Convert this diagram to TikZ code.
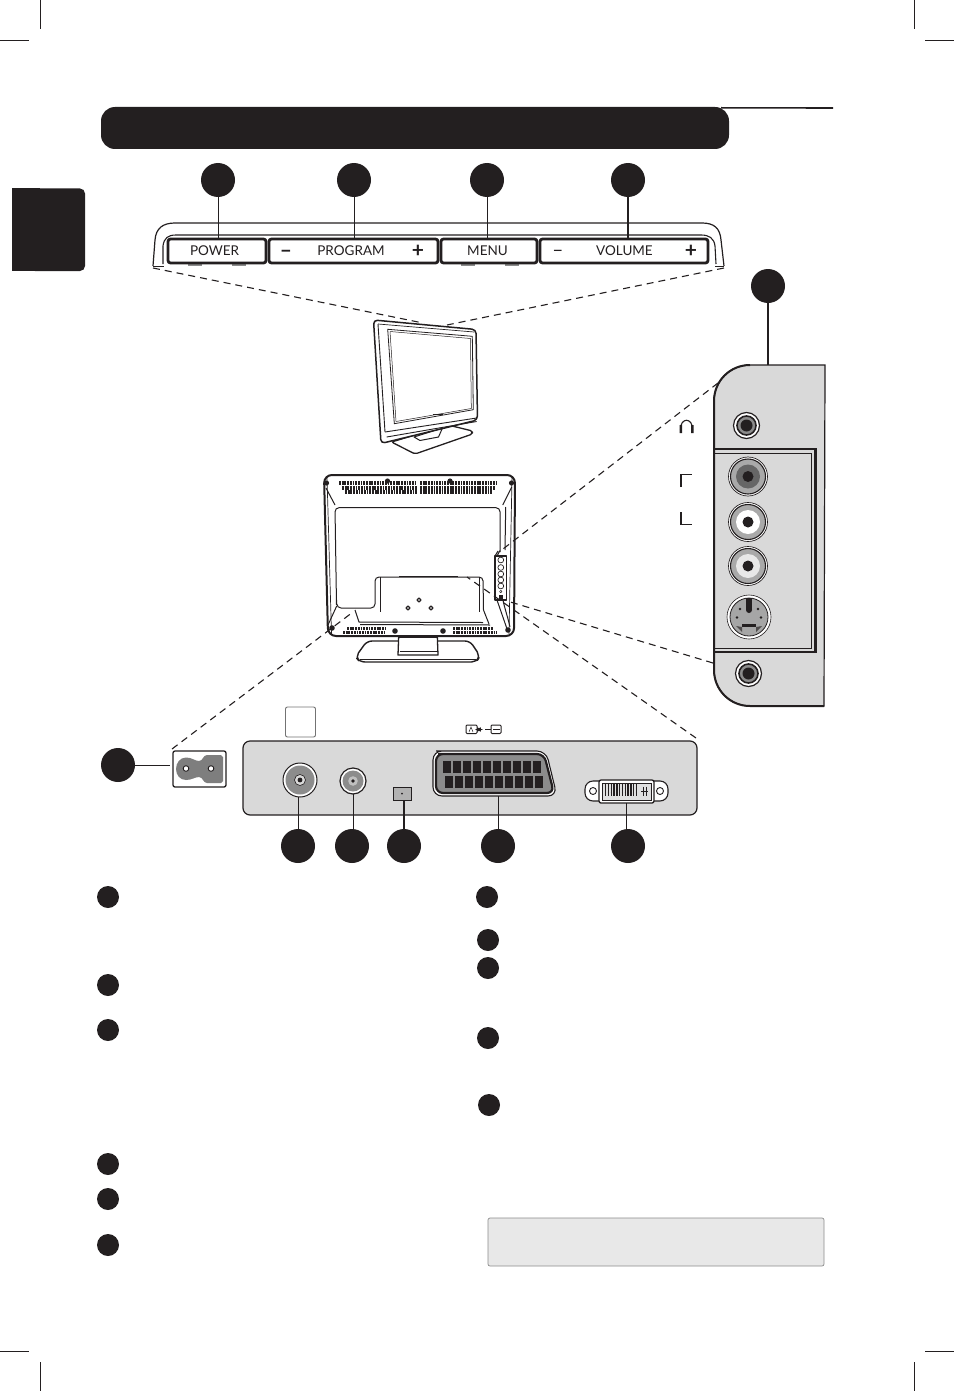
\documentclass[tikz,border=0pt]{standalone}
\usepackage{fontspec}
\setmainfont{Lato}
\usetikzlibrary{calc}
\definecolor{ink}{HTML}{231F20}
\definecolor{panelgrey}{HTML}{D9D9D9}
\definecolor{pingrey}{HTML}{8C8C8C}
\tikzstyle{callout}=[circle, fill=ink, draw=none, minimum size=34pt, inner sep=0pt]
\tikzstyle{bullet}=[circle, fill=ink, draw=none, minimum size=22pt, inner sep=0pt]
\tikzstyle{button}=[draw=ink, line width=2.8pt, rounded corners=2.5pt, minimum height=24pt,
    inner sep=0pt]
\tikzstyle{lead}=[draw=ink, line width=1pt]
\tikzstyle{zoomline}=[draw=ink, line width=1.1pt, dash pattern=on 7pt off 5pt]
\tikzstyle{crop}=[draw=ink, line width=0.7pt]
\tikzstyle{label}=[text=ink, inner sep=0pt, font=\fontsize{13.5}{15}\selectfont]
\tikzstyle{sign}=[text=ink, inner sep=0pt, anchor=base, font=\fontsize{21}{21}\selectfont\bfseries]
\tikzstyle{thinsign}=[text=ink, inner sep=0pt, anchor=base, font=\fontsize{19}{19}\selectfont]
\tikzstyle{vent}=[draw=ink, line width=4pt, dash pattern=on 1.8pt off 0.9pt]
\tikzstyle{outline}=[draw=ink, line width=1pt, line join=round]

\begin{document}
\begin{tikzpicture}[x=1pt,y=-1pt]
    \useasboundingbox (0,0) rectangle (954,1391);
    % crop marks
    \foreach \x in {40.5,914} {
      \draw [crop] (\x,0) -- (\x,29);
      \draw [crop] (\x,1362) -- (\x,1391);
    }
    \foreach \x in {0,925} {
      \draw [crop] (\x,40) -- (\x+29,40);
      \draw [crop] (\x,1351) -- (\x+29,1351);
    }
    % heading bar and section tab
    \node (bar) [fill=ink, rounded corners=14pt, minimum width=628pt, minimum height=42pt,
      inner sep=0pt] at (415,128) {};
    \draw [draw=ink, line width=1.6pt] (bar.north east)+(-8,1) -- (833,108);
    \fill [ink, rounded corners=5pt] (30,188.5) -- (85,188.5) -- (85,271) -- (30,271) -- cycle;
    \fill [ink] (12,188.5) rectangle (40,271);

    % button strip
    \draw [outline, line width=1.2pt] (153,266) -- (155,240) .. controls (156,228) and (163,223) .. (175,223)
      -- (702,223) .. controls (714,223) and (720,228) .. (721,240) -- (724,266);
    \draw [outline, line width=1.1pt] (163,264) -- (163,246) .. controls (164,238) and (168,235) .. (176,235)
      -- (701,235) .. controls (709,235) and (714,238) .. (715,246) -- (716,264);
    \draw [outline, line width=1.4pt] (153,266.5) -- (164,266.5) (715,266.5) -- (724,266.5);
    \foreach \x in {188,232,461,505}
      \draw [draw=pingrey, line width=1.6pt] (\x,265) -- (\x+14,265);
    \node (power) [button, fill=white, minimum width=98pt] at (217,251) {};
    \path (power)+(136.5,0) node (program) [button, fill=white, minimum width=169pt] {};
    \path (power)+(272,0) node (menu) [button, fill=white, minimum width=96pt] {};
    \path (power)+(407,0) node (volume) [button, fill=white, minimum width=168pt] {};
    \node (powertext) [label] at (214.5,251) {POWER};
    \node (programtext) [label] at (351,251) {PROGRAM};
    \node (programminus) [sign] at (286,257) {–};
    \node (programplus) [sign] at (418,257.5) {+};
    \node (menutext) [label] at (487.5,251) {MENU};
    \node (volumetext) [label] at (624.5,251) {VOLUME};
    \node (volumeminus) [thinsign] at (558,256) {–};
    \node (volumeplus) [sign] at (691,257.5) {+};

    % numbered markers above the buttons
    \node (callpower) [callout] at (218,180) {};
    \node (callprogram) [callout] at (354,180) {};
    \node (callmenu) [callout] at (487,180) {};
    \node (callvolume) [callout] at (628,180) {};
    \draw [lead] (callpower) -- (callpower |- power.north);
    \draw [lead] (callprogram) -- (callprogram |- program.north);
    \draw [lead] (callmenu) -- (callmenu |- menu.north);
    \draw [lead, line width=1.6pt] (callvolume) -- (callvolume |- volume.north);

    % front of the set
    \coordinate (stripleft) at (153,268);
    \coordinate (stripright) at (724,268);
    \coordinate (frontleft) at (423,323);
    \coordinate (frontright) at (447,325);
    \draw [zoomline] (stripleft) -- (frontleft);
    \draw [zoomline] (stripright) -- (frontright);
    \draw [outline, fill=white, line width=1.3pt, rounded corners=2pt] (391.5,442) -- (448,425) -- (472.5,431) -- (472.5,434) -- (415,454) -- cycle;
    \draw [outline, fill=white] (414,437) -- (420,440.5) -- (438.5,437) -- (442.5,428) -- cycle;
    \draw [outline, fill=white, line width=1.5pt, rounded corners=4pt] (373.5,320) -- (476,329.5) -- (477.5,420) -- (381,443.5) -- cycle;
    \draw [outline, rounded corners=2pt, line width=0.7pt] (378,324) -- (474,332);
    \draw [outline, line width=0.9pt] (378,324) -- (385,432);
    \draw [outline, line width=0.8pt, fill=white] (387.7,329.3) -- (472.3,336.3) -- (473.3,409.7) -- (394.3,423.7) -- cycle;
    \draw [outline, line width=0.5pt] (390,331.5) -- (470.5,338.5) -- (471.3,408.5) -- (396,421.5) -- cycle;
    \draw [outline, line width=0.9pt] (385,432) -- (476.7,418) (386.7,437) -- (476.7,421.5);
    \fill [ink] (433,413.5) rectangle (443,415);

    % back of the set
    \draw [outline, fill=white, line width=1.4pt, rounded corners=5pt] (367,641) -- (470,641) -- (480,656) -- (476.5,662) -- (360,662) -- (355.5,657) -- cycle;
    \draw [outline, line width=1.2pt] (360,659.5) -- (476,659.5);
    \draw [outline, fill=white, line width=1.3pt] (399,628) -- (437,628) -- (438,655) -- (398,655) -- cycle;
    \draw [outline] (399,637) -- (437,637) (400,651) -- (437,651);
    \draw [outline, fill=white, line width=2pt, rounded corners=8pt] (324,475) -- (515,475) -- (514,636) -- (328,636) -- cycle;
    \draw [outline, line width=0.7pt, rounded corners=8pt] (327,477) -- (331.5,634);
    \draw [outline, line width=0.7pt, rounded corners=8pt] (512,477) -- (509,634);
    \draw [draw=ink, line width=2pt] (395,475) -- (445,475);
    \draw [outline, rounded corners=4pt] (336.5,605) -- (335,507.7) -- (500,507.7) -- (500,552);
    \draw [outline] (505.7,507) -- (505,550);
    \draw [outline, rounded corners=4pt] (336.5,600) -- (337,608) -- (375,608) -- (375,577) -- (483,577) -- (483.5,610);
    \draw [outline] (380.7,577) -- (380.7,612) (479,577) -- (479,612);
    \draw [draw=ink, line width=1.2pt] (399,576.5) -- (458,576.5);
    \draw [outline] (355,610) -- (359,622) -- (483,622.5);
    \draw [outline] (360,624.5) -- (490,625) (483.5,610) -- (489,624);
    \draw [outline] (326,488) -- (335,505) (511.7,487) -- (502.7,505);
    \draw [outline] (328,625) -- (336.7,606);
    \draw [outline] (497,600) .. controls (499,606) and (504,620) .. (507,629);
    \draw [outline] (503,600) .. controls (504,606) and (508,618) .. (510,627);
    \foreach \y/\s in {482.5/0,487.5/3,492/6} {
      \draw [vent] (339+\s,\y) -- (417,\y);
      \draw [vent] (420,\y) -- (498-\s,\y);
    }
    \foreach \y/\s in {628.5/4,632.5/0} {
      \draw [vent, line width=3pt] (343+\s,\y) -- (385,\y);
      \draw [vent, line width=3pt] (453,\y) -- (497-\s,\y);
    }
    \foreach \x/\y in {387.5/481,450/481,326.5/483,511.5/483}
      \fill [ink] (\x,\y) circle (2.6pt);
    \foreach \x/\y in {332/628,395/631,443/631,508/630}
      \fill [ink] (\x,\y) circle (2.8pt);
    \foreach \x/\y in {419/600,408/608,431/608}
      \draw [outline, line width=1.2pt] (\x,\y-2) -- (\x+2,\y) -- (\x,\y+2) -- (\x-2,\y) -- cycle;
    \draw [outline, fill=white, line width=1.3pt] (495,556) rectangle (506.5,600);
    \foreach \y in {560,567.5,574,580,586}
      \draw [outline, line width=0.7pt] (500.8,\y) circle (2.9pt);
    \fill [ink] (498.8,595) rectangle (502.8,598.5);
    \draw [outline, line width=0.5pt] (500.8,591.5) circle (1.2pt);
    \draw [outline] (498,551) -- (495,556) (500,550.5) -- (497,556);

    % side connectors
    \coordinate (rearside) at (503,549);
    \coordinate (rearsidelow) at (507,601);
    \coordinate (rearbottom) at (467,577);
    \coordinate (rearmains) at (353,612);
    \coordinate (sidetop) at (718,383);
    \coordinate (sidebottom) at (713,663);
    \coordinate (portsright) at (696,738);
    \coordinate (mainscorner) at (172,749);
    \draw [zoomline] (sidetop) -- (rearside);
    \draw [zoomline] (sidebottom) -- (rearsidelow);
    \draw [zoomline] (portsright) -- (rearbottom);
    \draw [zoomline] (mainscorner) -- (rearmains);

    \path [draw=ink, line width=1.2pt, fill=panelgrey] (825,365) -- (750,365) .. controls (730,365) and (714,381) .. (714,401)
      -- (714,670) .. controls (714,690) and (730,706) .. (750,706) -- (824,706) -- cycle;
    \draw [draw=ink, line width=2pt] (750,365) .. controls (730,365) and (714,381) .. (714,401)
      -- (714,670) .. controls (714,690) and (730,706) .. (750,706) -- (824,706);
    \draw [draw=ink, line width=2.4pt] (714,449) -- (815.5,449) -- (815.5,652) -- (714,652);
    \draw [draw=ink, line width=1pt] (714,453) -- (811.5,453) -- (811.5,648) -- (714,648);
    \node (callside) [callout] at (768,286) {};
    \coordinate (sidelead) at (768,365);
    \draw [lead, line width=1.4pt] (callside) -- (sidelead);
    % jacks
    \foreach \y/\inner in {476.5/black!60,522/white,566/black!9} {
      \draw [draw=ink, line width=0.7pt, fill=white] (748,\y) circle (19.5pt);
      \draw [draw=ink, line width=1.1pt, fill=pingrey!75] (748,\y) circle (17.5pt);
      \fill [\inner] (748,\y) circle (12pt);
      \fill [ink] (748,\y) circle (5.5pt);
    }
    \foreach \y/\x in {425.5/746.5,673.5/748.5} {
      \draw [draw=ink, line width=1.2pt, fill=white] (\x,\y) circle (13pt);
      \draw [draw=ink, line width=1.6pt, fill=pingrey] (\x,\y) circle (9.5pt);
      \fill [ink] (\x,\y) circle (6pt);
    }
    \draw [draw=ink, line width=0.6pt, fill=white] (749,617) circle (22pt);
    \draw [draw=ink, line width=0.8pt, fill=black!35] (749,617) circle (19pt);
    \fill [ink] (746,598) rectangle (752,610);
    \fill [ink] (749,610) circle (3pt);
    \fill [ink] (742,624) rectangle (756,627);
    \fill [ink!80] (736,626) -- (742,627) -- (742,632) -- cycle;
    \fill [ink!80] (762,626) -- (756,627) -- (756,632) -- cycle;
    \foreach \x/\y in {740/609,758/609,737/617.5,761/617.5}
      \fill [ink] (\x,\y) circle (1.3pt);
    % headphone and channel marks
    \draw [draw=ink, line width=1.1pt] (680.5,430) .. controls (680,417) and (693,417) .. (692.5,430);
    \fill [ink] (679.5,425) rectangle (682,433) (691,425) rectangle (693.5,433);
    \draw [draw=ink, line width=1.2pt] (681,487) -- (681,474.5) -- (692,474.5);
    \draw [draw=ink, line width=1.2pt] (681,512) -- (681,524.5) -- (692,524.5);

    % rear connector panel
    \node (portpanel) [draw=ink, line width=1.2pt, fill=panelgrey, rounded corners=7pt, minimum width=454pt,
      minimum height=74pt, inner sep=0pt] at (470,778) {};
    \node (aerialbox) [draw=black!55, line width=0.9pt, fill=white, rounded corners=2pt, minimum size=30pt,
      inner sep=0pt] at (300.5,722) {};
    \draw [draw=ink, line width=1pt, fill=white] (300,780) circle (17pt);
    \draw [draw=none, fill=pingrey] (300,780) circle (14.5pt);
    \draw [draw=ink, line width=0.6pt, fill=black!15] (300,780) circle (5.5pt);
    \fill [ink] (300,780) circle (2.4pt);
    \draw [draw=ink, line width=1.2pt, fill=white] (353,781) circle (13pt);
    \draw [draw=none, fill=pingrey] (353,781) circle (10.5pt);
    \fill [black!25] (353,781) circle (4.8pt);
    \fill [ink] (353,781) circle (1.8pt);
    \node (jackbox) [draw=ink, line width=0.7pt, fill=black!30, minimum width=18pt, minimum height=13pt,
      inner sep=0pt] at (402,793.5) {};
    \fill [ink] (402,793.5) circle (1pt);
    % scart socket
    \path [draw=ink, line width=1.1pt, fill=white, rounded corners=9pt] (445,751) -- (546,751) -- (557,796) -- (433,796) -- (433,751) -- cycle;
    \path [draw=ink, line width=2.2pt, fill=pingrey, rounded corners=7pt] (445,754) -- (544,754) -- (554,793) -- (436,793) -- (436,754) -- cycle;
    \foreach \n in {0,...,9} {
      \fill [ink] (443+\n*10,761) rectangle +(7.5,12);
      \fill [ink] (445+\n*10,776) rectangle +(7.5,12);
    }
    % dvi socket
    \draw [draw=ink, line width=1.1pt, fill=white, rounded corners=8pt] (585,781) rectangle (668,801);
    \draw [draw=ink, line width=0.9pt] (593,791) circle (3.5pt) (660,791) circle (3.5pt);
    \draw [draw=ink, line width=1.3pt, fill=white, rounded corners=2pt] (599,780) rectangle (654,803);
    \draw [draw=ink, line width=0.7pt, fill=black!12] (602,783) rectangle (651,800);
    \foreach \y in {786,790,794}
      \draw [draw=ink, line width=3.2pt, dash pattern=on 1.4pt off 1.4pt] (605,\y) -- (636,\y);
    \draw [draw=ink, line width=0.8pt] (641,791) -- (648,791) (643.5,786.5) -- (643.5,795.5) (646,786.5) -- (646,795.5);
    % mode icon over the scart
    \draw [draw=ink, line width=1pt, fill=white, rounded corners=1pt] (466,725) rectangle (477,733.5);
    \draw [draw=ink, line width=0.5pt] (469,732) -- (471,727) -- (473,732);
    \draw [draw=ink, line width=1pt, <->, >=latex] (475,729.5) -- (483,729.5);
    \draw [draw=ink, line width=1pt] (485,729.5) -- (491,729.5);
    \draw [draw=ink, line width=1pt, fill=white, rounded corners=1pt] (491,725) rectangle (501,733.5);
    \draw [draw=ink, line width=0.8pt] (493,729.5) -- (500,729.5);

    % mains inlet
    \node (mains) [draw=ink, line width=1.3pt, fill=white, rounded corners=2pt, minimum width=53pt,
      minimum height=36pt, inner sep=0pt] at (199.5,769) {};
    \fill [pingrey!90!black] (186,757.5) .. controls (192,757.5) and (195,761) .. (199,761) .. controls (203,761) and (203,755) .. (207,755)
      -- (221,755) -- (223,757) -- (223,781) -- (221,783) -- (207,783) .. controls (203,783) and (203,777) .. (199,777) .. controls (195,777) and (192,780) .. (186,780)
      .. controls (180,780) and (176,775) .. (176,769) .. controls (176,763) and (180,757.5) .. (186,757.5) -- cycle;
    \draw [draw=ink, line width=0.9pt, fill=white] (186,768.5) circle (2.8pt);
    \draw [draw=ink, line width=0.9pt, fill=white] (211,768.5) circle (2.8pt);
    \node (callmains) [callout] at (118,765) {};
    \coordinate (mainsedge) at (170,765);
    \draw [lead] (callmains) -- (mainsedge);

    % numbered markers under the panel
    \node (callaerial) [callout] at (298,846) {};
    \node (callradio) [callout] at (352,846) {};
    \node (calljack) [callout] at (404,846) {};
    \node (callscart) [callout] at (498,846) {};
    \node (calldvi) [callout] at (628,846) {};
    \coordinate (aerialend) at (298,797);
    \coordinate (radioend) at (353,794);
    \coordinate (jackend) at (404,800);
    \coordinate (scartend) at (498,796);
    \coordinate (dviend) at (626,803);
    \draw [lead] (callaerial) -- (aerialend);
    \draw [lead] (callradio.north -| radioend) -- (radioend);
    \draw [lead, line width=1.8pt] (calljack) -- (jackend);
    \draw [lead] (callscart) -- (scartend);
    \draw [lead] (calldvi.north -| dviend) -- (dviend);

    % list markers
    \foreach \n/\x/\y in {a/108/897,b/108/985,c/108/1030,d/108/1164,e/108/1199,f/108/1245,
        g/487/897,h/488/940,i/488/968,j/488/1038,k/489/1105}
      \node (item\n) [bullet] at (\x,\y) {};

    % note box
    \node (note) [draw=black!45, line width=0.7pt, fill=black!9, rounded corners=2pt, minimum width=336pt,
      minimum height=48pt, inner sep=0pt] at (656,1242) {};
\end{tikzpicture}
\end{document}
